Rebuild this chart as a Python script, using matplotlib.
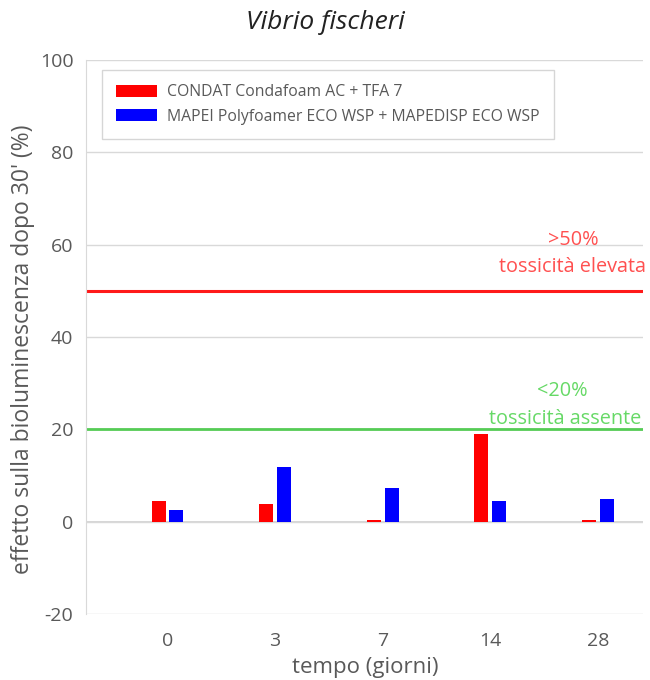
import matplotlib
matplotlib.use("Agg")
import matplotlib.pyplot as plt
import numpy as np
from matplotlib.patches import Patch

# Bioluminescence inhibition of Vibrio fischeri after 30 minutes
giorni = ["0", "3", "7", "14", "28"]
condat = [4.4, 3.9, 0.4, 18.9, 0.4]
mapei = [2.5, 11.8, 7.4, 4.4, 4.9]
serie = ["CONDAT Condafoam AC + TFA 7", "MAPEI Polyfoamer ECO WSP + MAPEDISP ECO WSP"]
soglia_alta = 50
soglia_bassa = 20
yticks = [-20, 0, 20, 40, 60, 80, 100]

plt.rcParams["font.family"] = ["Open Sans", "DejaVu Sans"]
plt.rcParams["axes.unicode_minus"] = False
grigio = "#595959"

fig = plt.figure(figsize=(6.5, 6.8), dpi=100)
ax = fig.add_axes([0.1323, 0.097, 0.857, 0.8147])

x = np.arange(len(giorni))
w = 0.13
off = 0.083
ax.bar(x - off, condat, w, color="#ff0000", zorder=3)
ax.bar(x + off, mapei, w, color="#0000ff", zorder=3)

ax.set_xlim(-0.757, 4.418)
ax.set_ylim(-20, 100)
ax.set_yticks(yticks)
ax.set_xticks(x)
ax.set_xticklabels(giorni)
ax.tick_params(axis="both", length=0, colors=grigio, labelsize=14)
ax.tick_params(axis="y", pad=9)
ax.tick_params(axis="x", pad=13)
ax.grid(axis="y", color="#d9d9d9", linewidth=1, zorder=0)
ax.axhline(0, color="#d0d0d0", linewidth=1.2, zorder=1)
for s in ["top", "right", "bottom"]:
    ax.spines[s].set_visible(False)
ax.spines["left"].set_color("#d9d9d9")

# Toxicity thresholds
ax.axhline(soglia_alta, color="#ff1a1a", linewidth=2.2, zorder=2)
ax.axhline(soglia_bassa, color="#55cc55", linewidth=2.0, zorder=2)
ax.text(3.77, 61.1, ">50%", color="#ff5050", fontsize=14.3, ha="center", va="center")
ax.text(4.45, 55.2, "tossicità elevata", color="#ff5050", fontsize=14.3, ha="right", va="center")
ax.text(3.67, 28.4, "<20%", color="#66d966", fontsize=14.3, ha="center", va="center")
ax.text(4.40, 22.3, "tossicità assente", color="#66d966", fontsize=14.3, ha="right", va="center")

ax.set_ylabel("effetto sulla bioluminescenza dopo 30' (%)", color=grigio, fontsize=16.5)
ax.yaxis.set_label_coords(-0.092, 0.478)
ax.set_xlabel("tempo (giorni)", color=grigio, fontsize=16)
ax.xaxis.set_label_coords(0.501, -0.078)
fig.text(0.5, 0.967, "Vibrio fischeri", style="italic", fontsize=19, ha="center", va="center", color="#222222")

handles = [Patch(facecolor="#ff0000", edgecolor="none"), Patch(facecolor="#0000ff", edgecolor="none")]
leg = ax.legend(handles, serie, loc="upper left", bbox_to_anchor=(0.029, 0.982),
                fontsize=11.3, frameon=True, fancybox=False, handlelength=2.6, handleheight=0.8,
                borderpad=0.9, labelspacing=0.55, handletextpad=0.65, borderaxespad=0)
leg.get_frame().set_edgecolor("#cccccc")
leg.get_frame().set_linewidth(1)
for t in leg.get_texts():
    t.set_color(grigio)

fig.savefig("out.png", dpi=100)
